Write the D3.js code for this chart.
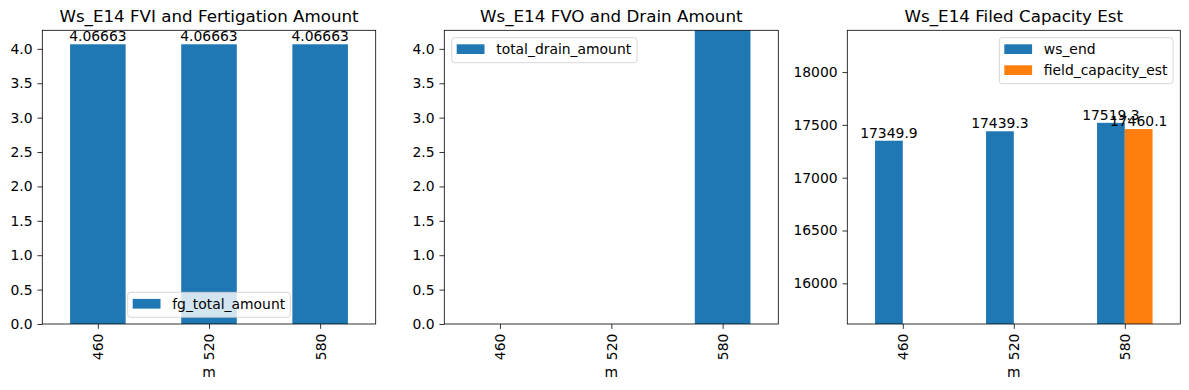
<!DOCTYPE html>
<html><head><meta charset="utf-8">
<script src="https://cdn.jsdelivr.net/npm/d3@7"></script>
<style>body{margin:0;background:#fff}svg{display:block}text{font-family:"DejaVu Sans",sans-serif;fill:#000}</style>
</head><body>
<svg id="c" width="1189" height="390"></svg>
<script>
const categories = ["460", "520", "580"];
const fgTotalAmount = [4.06663, 4.06663, 4.06663];
const totalDrainAmount = [0, 0, 6.0];
const wsEnd = [17349.9, 17439.3, 17519.3];
const fieldCapacityEst = [null, null, 17460.1];
const ticks1 = [0, 0.5, 1, 1.5, 2, 2.5, 3, 3.5, 4];
const ticks3 = [16000, 16500, 17000, 17500, 18000];
const titles = ["Ws_E14 FVI and Fertigation Amount", "Ws_E14 FVO and Drain Amount", "Ws_E14 Filed Capacity Est"];

const C1 = "#1f77b4", C2 = "#ff7f0e";
const FS = 13.9;
const svg = d3.select("#c");

function panel(o) {
  const g = svg.append("g");
  const x = d3.scaleLinear().domain([-0.5, categories.length - 0.5]).range([o.left, o.right]);
  const y = d3.scaleLinear().domain(o.ylim).range([o.bottom, o.top]);
  const id = "clip" + o.idx;
  svg.append("clipPath").attr("id", id).append("rect")
    .attr("x", o.left).attr("y", o.top).attr("width", o.right - o.left).attr("height", o.bottom - o.top);
  const ns = o.series.length;
  const bw = 0.5 / ns;
  o.series.forEach((s, si) => {
    const data = s.values.map((v, i) => ({v, i})).filter(d => d.v !== null);
    const off = -0.25 + si * bw;
    g.append("g").attr("clip-path", `url(#${id})`).selectAll("rect").data(data).join("rect")
      .attr("x", d => x(d.i + off)).attr("width", d => x(d.i + off + bw) - x(d.i + off))
      .attr("y", d => y(Math.max(d.v, o.ylim[0]))).attr("height", d => y(o.ylim[0]) - y(Math.max(d.v, o.ylim[0])))
      .attr("fill", s.color);
    if (o.labels) {
      g.selectAll(null).data(data).join("text")
        .attr("x", d => x(d.i + off + bw / 2)).attr("y", d => y(d.v) - 3.2)
        .attr("text-anchor", "middle").attr("font-size", FS).text(d => s.fmt(d.v));
    }
  });
  // y axis
  const ya = d3.axisLeft(y).tickValues(o.ticks).tickFormat(o.tickFmt).tickSize(4.86).tickPadding(4.86);
  const yg = g.append("g").attr("transform", `translate(${o.left},0)`).call(ya);
  yg.select(".domain").remove();
  yg.selectAll("line").attr("stroke", "#000").attr("stroke-width", 0.8);
  yg.selectAll("text").attr("font-size", FS).attr("font-family", "DejaVu Sans").attr("fill", "#000");
  // x axis
  const xa = d3.axisBottom(x).tickValues(categories.map((c, i) => i)).tickFormat(i => categories[i]).tickSize(4.86).tickPadding(4.86);
  const xg = g.append("g").attr("transform", `translate(0,${o.bottom})`).call(xa);
  xg.select(".domain").remove();
  xg.selectAll("line").attr("stroke", "#000").attr("stroke-width", 0.8);
  xg.selectAll("text").attr("font-size", FS).attr("font-family", "DejaVu Sans").attr("fill", "#000")
    .attr("transform", "rotate(-90)").attr("x", -9.7).attr("y", 0).attr("dy", "0.35em").attr("text-anchor", "end");
  // frame
  g.append("rect").attr("x", o.left).attr("y", o.top).attr("width", o.right - o.left).attr("height", o.bottom - o.top)
    .attr("fill", "none").attr("stroke", "#000").attr("stroke-width", 0.8);
  // title
  g.append("text").attr("x", (o.left + o.right) / 2).attr("y", 22).attr("text-anchor", "middle").attr("font-size", 16.7).text(o.title);
  g.append("text").attr("x", (o.left + o.right) / 2).attr("y", 377).attr("text-anchor", "middle").attr("font-size", FS).text("m");
  // legend
  const L = o.legend;
  const lg = g.append("g");
  lg.append("rect").attr("x", L.x).attr("y", L.y).attr("width", L.w).attr("height", 10 + o.series.length * 21 - 6)
    .attr("rx", 2.8).attr("fill", "#fff").attr("fill-opacity", 0.8).attr("stroke", "#cccccc").attr("stroke-width", 0.8);
  o.series.forEach((s, si) => {
    const cy = L.y + 11.5 + si * 21;
    lg.append("rect").attr("x", L.x + 5).attr("y", cy - 4.9).attr("width", 27.8).attr("height", 9.7).attr("fill", s.color);
    lg.append("text").attr("x", L.x + 44.5).attr("y", cy).attr("dy", "0.35em").attr("font-size", FS).text(s.name);
  });
}

const f1 = d => d3.format(".1f")(d);
panel({idx: 1, left: 42.3, right: 375.7, top: 30.3, bottom: 324, ylim: [0, 4.06663 * 1.05], ticks: ticks1, tickFmt: f1,
  title: titles[0], labels: true,
  series: [{name: "fg_total_amount", values: fgTotalAmount, color: C1, fmt: d => d3.format(".6g")(d)}],
  legend: {x: 127.7, y: 292.3, w: 162.6}});
panel({idx: 2, left: 444.3, right: 778.3, top: 30.3, bottom: 324, ylim: [0, 4.06663 * 1.05], ticks: ticks1, tickFmt: f1,
  title: titles[1], labels: false,
  series: [{name: "total_drain_amount", values: totalDrainAmount, color: C1, fmt: d => d}],
  legend: {x: 451.7, y: 37.7, w: 185.3}});
panel({idx: 3, left: 847.3, right: 1180.3, top: 30.3, bottom: 324, ylim: [17349.9 * 0.9, 17519.3 * 1.05], ticks: ticks3, tickFmt: d => d,
  title: titles[2], labels: true,
  series: [{name: "ws_end", values: wsEnd, color: C1, fmt: d => d3.format(".6g")(d)},
           {name: "field_capacity_est", values: fieldCapacityEst, color: C2, fmt: d => d3.format(".6g")(d)}],
  legend: {x: 999.3, y: 37.7, w: 173.7}});
</script>
</body></html>
